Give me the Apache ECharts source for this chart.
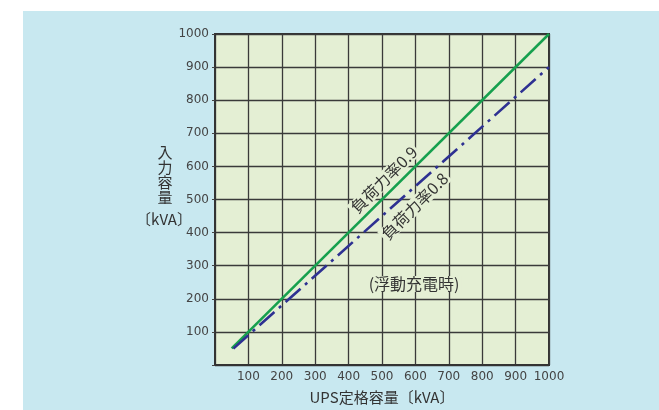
<!DOCTYPE html>
<html>
<head>
<meta charset="utf-8">
<script src="https://cdn.jsdelivr.net/npm/echarts@6/dist/echarts.min.js"></script>
<style>
html,body{margin:0;padding:0;background:#fff;}
#main{width:659px;height:410px;}
</style>
</head>
<body>
<div id="main"></div>
<script>
// ---- データ
var axisMin = 0, axisMax = 1000, axisStep = 100;
var pf09Line = [[50, 50], [1000, 1000]];     // 負荷力率0.9
var pf08Line = [[55, 49.5], [1000, 900]];    // 負荷力率0.8
var pf09Label = { text: '負荷力率0.9', at: [506, 560] };
var pf08Label = { text: '負荷力率0.8', at: [598, 480] };
var noteLabel = { text: '(浮動充電時)', at: [596, 245] };
var xName = 'UPS定格容量〔kVA〕';
var yNameLines = ['入', '力', '容', '量'];
var yUnit = '〔kVA〕';

var FONT = '"Noto Sans CJK JP", "DejaVu Sans", sans-serif';
var NUMFONT = '"DejaVu Sans", sans-serif';
var plotBg = '#e4efd4';

var myChart = echarts.init(document.getElementById('main'));

var option = {
    backgroundColor: 'transparent',
    animation: false,
    textStyle: { fontFamily: FONT },
    grid: {
        left: 215, top: 34, right: 110, bottom: 42,
        show: true, backgroundColor: plotBg,
        borderColor: '#333', borderWidth: 2
    },
    xAxis: {
        type: 'value', min: axisMin, max: axisMax, interval: axisStep,
        name: xName, nameLocation: 'middle', nameGap: 25,
        nameTextStyle: { fontSize: 15, color: '#333', fontFamily: FONT },
        axisLine: { show: true, lineStyle: { color: '#333', width: 2 } },
        axisTick: { show: false },
        axisLabel: {
            color: '#444', fontSize: 12, margin: 6, fontFamily: NUMFONT,
            formatter: function (v) { return v === 0 ? '' : v; }
        },
        splitLine: { show: true, lineStyle: { color: '#3a3a3a', width: 1.3 } }
    },
    yAxis: {
        type: 'value', min: axisMin, max: axisMax, interval: axisStep,
        axisLine: { show: true, lineStyle: { color: '#333', width: 2 } },
        axisTick: { show: true, length: 3, lineStyle: { color: '#444' } },
        axisLabel: {
            color: '#444', fontSize: 12, margin: 6, fontFamily: NUMFONT,
            formatter: function (v) { return v === 0 ? '' : v; }
        },
        splitLine: { show: true, lineStyle: { color: '#3a3a3a', width: 1.3 } }
    },
    series: [
        {
            name: pf09Label.text, type: 'line', data: pf09Line,
            symbol: 'none', z: 3,
            lineStyle: { color: '#16a04e', width: 2.5 }
        },
        {
            name: pf08Label.text, type: 'line', data: pf08Line,
            symbol: 'none', z: 4,
            lineStyle: { color: '#2e3192', width: 2.6, type: [20, 6, 3, 6], cap: 'butt' }
        }
    ]
};
myChart.setOption(option);

// ---- 文字の配置
function textAt(item, rot, size) {
    var p = myChart.convertToPixel({ gridIndex: 0 }, item.at);
    return {
        type: 'text', x: p[0], y: p[1], rotation: rot, z: 20,
        style: {
            text: item.text, fontSize: size, fontFamily: FONT, fill: '#333',
            align: 'center', verticalAlign: 'middle',
            backgroundColor: plotBg, padding: [0, 2]
        }
    };
}
var g = [
    { type: 'rect', x: 23, y: 11, shape: { width: 640, height: 400 }, style: { fill: '#c8e8f0' }, z: -10, silent: true },
    textAt(pf09Label, Math.PI / 4, 16),
    textAt(pf08Label, Math.PI / 4, 16),
    textAt(noteLabel, 0, 16)
];
yNameLines.forEach(function (ch, i) {
    g.push({
        type: 'text', x: 165, y: 152 + i * 15, z: 20,
        style: { text: ch, fontSize: 15, fontFamily: FONT, fill: '#333', align: 'center', verticalAlign: 'middle' }
    });
});
g.push({
    type: 'text', x: 164, y: 219, z: 20,
    style: { text: yUnit, fontSize: 15, fontFamily: FONT, fill: '#333', align: 'center', verticalAlign: 'middle' }
});
myChart.setOption({ graphic: g });
</script>
</body>
</html>
